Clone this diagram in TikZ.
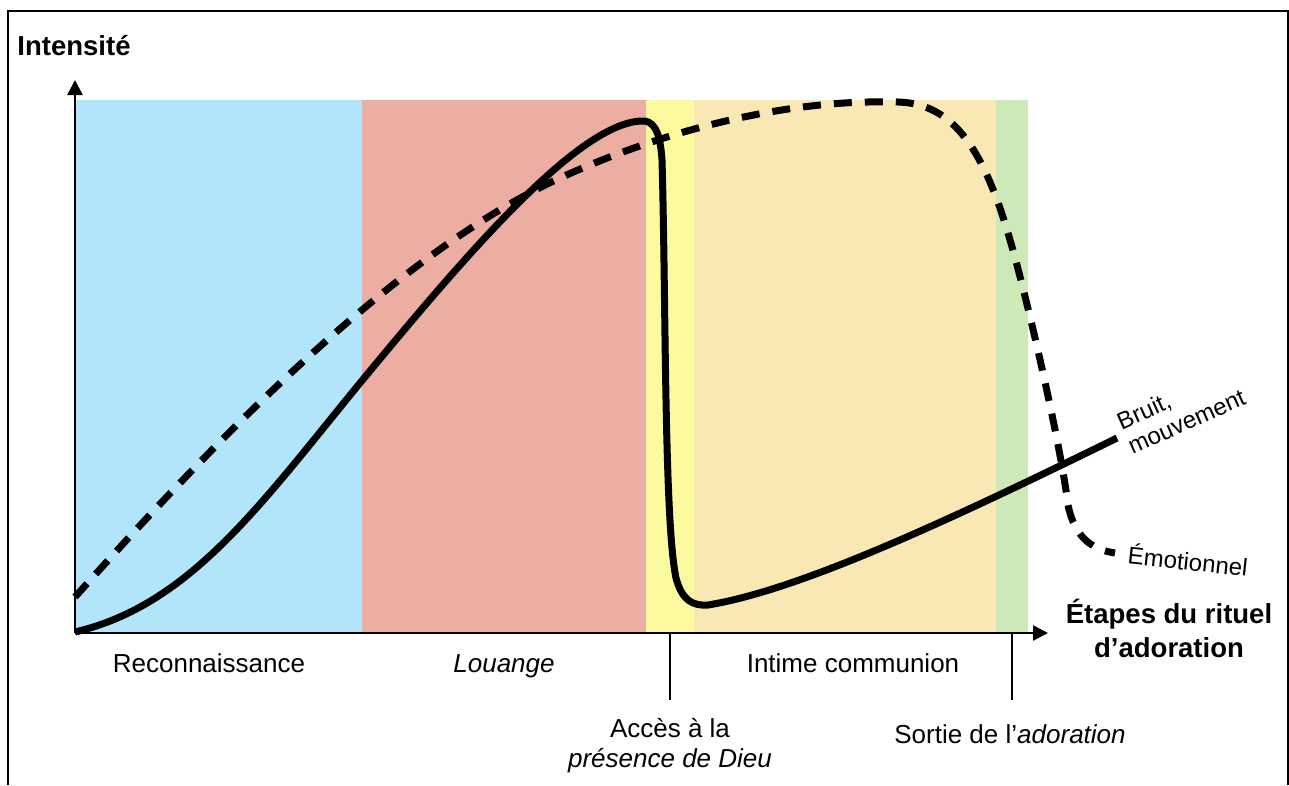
\documentclass[tikz,border=0pt]{standalone}
\usepackage{fontspec}
\setmainfont{Liberation Sans}
\usetikzlibrary{arrows.meta}
\definecolor{bblue}{HTML}{B3E5FA}
\definecolor{bred}{HTML}{ECAEA3}
\definecolor{byellow}{HTML}{FBFA9E}
\definecolor{bbeige}{HTML}{F9E8B3}
\definecolor{bgreen}{HTML}{CDE9B7}
\begin{document}
\begin{tikzpicture}[x=1pt,y=-1pt,
  lbl/.style={font=\fontsize{26}{30}\selectfont, inner sep=0pt, align=center, anchor=base},
  boldlbl/.style={font=\fontsize{27.5}{34}\selectfont\bfseries, inner sep=0pt, align=center, anchor=base},
  smalllbl/.style={font=\fontsize{24}{27}\selectfont, inner sep=0pt},
  axisline/.style={line width=2.5pt, -{Triangle[length=15pt,width=15pt]}},
  tickline/.style={line width=2.5pt},
  solidcurve/.style={line width=7pt},
  dashcurve/.style={line width=7pt, dash pattern=on 18pt off 13pt}]
\useasboundingbox (0,0) rectangle (1289,785);
\fill[white] (0,0) rectangle (1289,785);
% frame
\draw[line width=2.5pt] (8,785) -- (8,11) -- (1288,11) -- (1288,785);
% bands
\fill[bblue] (75,100) rectangle (362,633);
\fill[bred] (362,100) rectangle (646,633);
\fill[byellow] (646,100) rectangle (694,633);
\fill[bbeige] (694,100) rectangle (996,633);
\fill[bgreen] (996,100) rectangle (1028,633);
% axes
\coordinate (O) at (75,633);
\coordinate (Ytip) at (75,80);
\coordinate (Xtip) at (1048,633);
\coordinate (T1a) at (670,633);
\coordinate (T1b) at (670,700);
\coordinate (T2a) at (1012,633);
\coordinate (T2b) at (1012,700);
\draw[tickline] (T1a) -- (T1b);
\draw[tickline] (T2a) -- (T2b);
\draw[axisline] (O) -- (Ytip);
\draw[axisline] (O) -- (Xtip);
% dashed curve (emotionnel)
\coordinate (D0) at (75,597);
\coordinate (D4) at (1115,553);
\draw[dashcurve] (D0) .. controls (180,480) and (380,260) .. (560,178)
  .. controls (680,123) and (800,100) .. (890,102)
  .. controls (945,100) and (980,135) .. (1010,240)
  .. controls (1025,290) and (1060,440) .. (1068,505)
  .. controls (1075,540) and (1095,550) .. (D4);
% solid curve (bruit, mouvement)
\coordinate (S0) at (75,632);
\coordinate (S5) at (1117,438);
\draw[solidcurve] (S0) .. controls (190,605) and (260,505) .. (360,383)
  .. controls (460,262) and (576,124) .. (641,121)
  .. controls (652,120) and (660,128) .. (662,160)
  .. controls (666,300) and (664,520) .. (676,578)
  .. controls (682,600) and (692,606) .. (708,605)
  .. controls (800,590) and (950,520) .. (S5);
% labels
\node[boldlbl] (yl) at (74,55) {Intensité};
\node[boldlbl] (xl) at (1169,657) {Étapes du rituel\\d’adoration};
\node[lbl] (l1) at (209,672) {Reconnaissance};
\node[lbl] (l2) at (504,672) {\itshape Louange};
\node[lbl] (l3) at (853,672) {Intime communion};
\node[lbl] (l4) at (670,767) {Accès à la\\\itshape présence de Dieu};
\node[lbl] (l5) at (1010,743) {Sortie de l’\textit{adoration}};
\node[smalllbl, rotate=24, align=left] (bm) at (1181,409) {Bruit,\\mouvement};
\node[smalllbl, rotate=-6] (em) at (1188,560) {Émotionnel};
\end{tikzpicture}
\end{document}
